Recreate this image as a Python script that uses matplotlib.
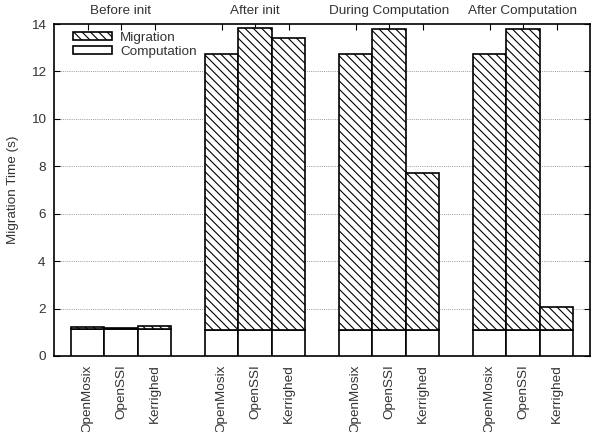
import numpy as np
import matplotlib
matplotlib.use("Agg")
import matplotlib.pyplot as plt

plt.rcParams['font.family'] = ['Liberation Sans', 'DejaVu Sans']
plt.rcParams['hatch.linewidth'] = 0.8

# data
phases = ["Before init", "After init", "During Computation", "After Computation"]
systems = ["OpenMosix", "OpenSSI", "Kerrighed"]
computation = [1.12, 1.12, 1.12,
               1.08, 1.08, 1.08,
               1.08, 1.08, 1.08,
               1.08, 1.08, 1.08]
total = [1.21, 1.17, 1.28,
         12.73, 13.85, 13.39,
         12.73, 13.80, 7.71,
         12.73, 13.80, 2.07]
migration = [t - c for t, c in zip(total, computation)]

# bar positions: 3 bars per phase, one empty slot between phases
pos = []
for g in range(len(phases)):
    for s in range(len(systems)):
        pos.append(g * 4 + s)
pos = np.array(pos)

fs = 9.7
txt = "#333333"

fig = plt.figure(figsize=(5.96, 4.32), dpi=100)
ax = fig.add_axes([54 / 596, 1 - 356 / 432, 536 / 596, 332 / 432])

ax.bar(pos, computation, width=1.0, color="white", edgecolor="black",
       linewidth=1.2, label="Computation", zorder=3)
ax.bar(pos, migration, width=1.0, bottom=computation, color="white",
       edgecolor="black", hatch="\\\\\\\\", linewidth=1.2, label="Migration", zorder=3)

ax.set_xlim(-1, 15)
ax.set_ylim(0, 14)
ax.set_yticks(range(0, 15, 2))
ax.set_xticks(pos)
ax.set_xticklabels(systems * len(phases), rotation=90, fontsize=fs, color=txt)
ax.tick_params(axis="y", direction="in", right=True, length=4, labelsize=fs,
               labelcolor=txt, pad=6)
ax.tick_params(axis="x", direction="in", top=True, bottom=False, length=4, pad=6)

for y in range(2, 14, 2):
    ax.axhline(y, color="#999999", linestyle=(0, (1, 1.2)), linewidth=0.7, zorder=1)

for sp in ax.spines.values():
    sp.set_linewidth(1.2)

ax.set_ylabel("Migration Time (s)", fontsize=fs, color=txt, labelpad=8)

for g, name in enumerate(phases):
    ax.text(g * 4 + 1, 14.3, name, ha="center", va="bottom", fontsize=fs,
            color=txt)

handles, labels = ax.get_legend_handles_labels()
ax.legend(handles[::-1], labels[::-1], loc="upper left", frameon=False,
          fontsize=fs, handlelength=2.9, handleheight=0.55, labelspacing=0.15,
          borderaxespad=0.2, bbox_to_anchor=(0.02, 1.0), handletextpad=0.6,
          labelcolor=txt)

fig.savefig("out.png", dpi=100)
